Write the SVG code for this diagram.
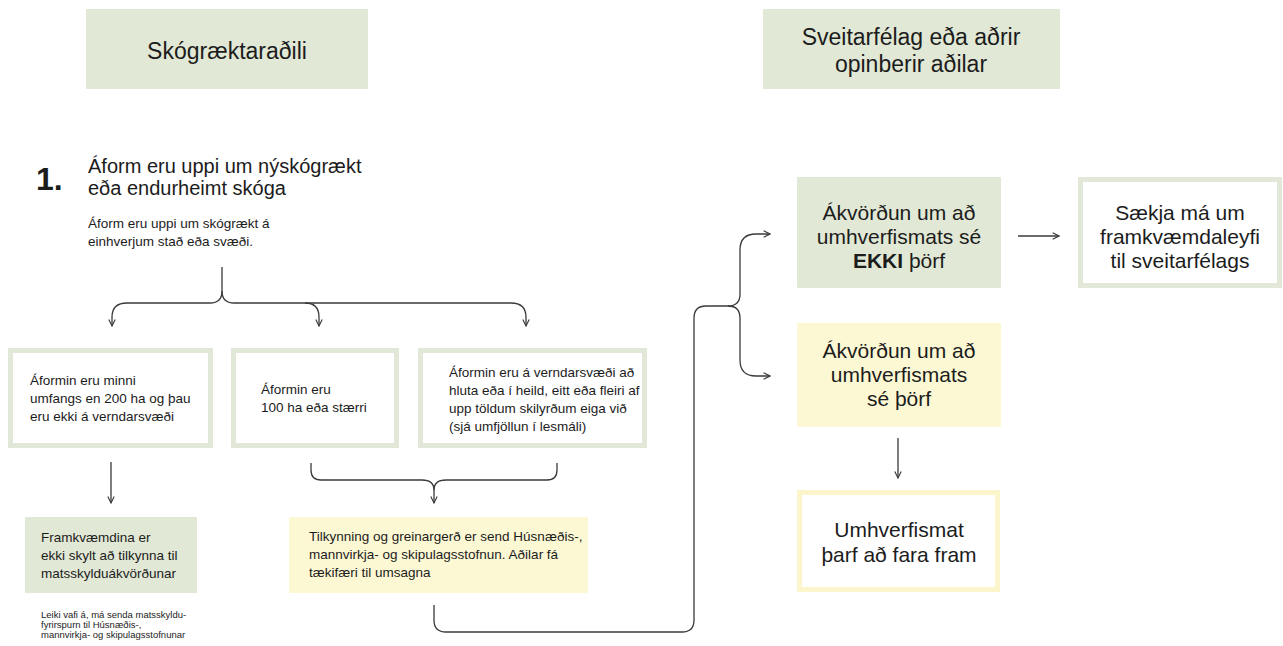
<svg xmlns="http://www.w3.org/2000/svg" width="1283" height="646" viewBox="0 0 1283 646">
<defs>
<style>
text{font-family:"Liberation Sans",Arial,sans-serif;fill:#1c1c1c}
.hd{font-size:23px}
.tt{font-size:20px}
.b{font-size:13.5px}
.s{font-size:9.5px}
.r{font-size:21px}
.c{text-anchor:middle}
.gf{fill:#e1e8d5}
.yf{fill:#fdf8d4}
.gb{fill:#fff;stroke:#e2e8d7;stroke-width:5}
.yb{fill:#fff;stroke:#fcf5cc;stroke-width:5}
.ln{fill:none;stroke:#3a3a3a;stroke-width:1.3}
</style>
<marker id="ah" viewBox="0 0 10 10" refX="9" refY="5" markerWidth="8" markerHeight="8" markerUnits="userSpaceOnUse" orient="auto">
<path d="M1,1 L9,5 L1,9" fill="none" stroke="#3a3a3a" stroke-width="1.4"/>
</marker>
</defs>
<rect width="1283" height="646" fill="#fff"/>

<g id="header-left">
<rect class="gf" x="86" y="9" width="282" height="80" rx="1"/>
<text class="hd c" x="227" y="59">Skógræktaraðili</text>
</g>
<g id="header-right">
<rect class="gf" x="763" y="9" width="297" height="80" rx="1"/>
<text class="hd c" x="911" y="45">Sveitarfélag eða aðrir</text>
<text class="hd c" x="911" y="72">opinberir aðilar</text>
</g>

<g id="step1">
<text x="36" y="190" style="font-size:32px;font-weight:bold">1.</text>
<text class="tt" x="88" y="173">Áform eru uppi um nýskógrækt</text>
<text class="tt" x="88" y="195">eða endurheimt skóga</text>
<text class="b" x="88" y="228">Áform eru uppi um skógrækt á</text>
<text class="b" x="88" y="246">einhverjum stað eða svæði.</text>
</g>

<g id="box-minni">
<rect class="gb" x="10.5" y="350.5" width="200" height="95"/>
<text class="b" x="30" y="385">Áformin eru minni</text>
<text class="b" x="30" y="403">umfangs en 200 ha og þau</text>
<text class="b" x="30" y="421">eru ekki á verndarsvæði</text>
</g>
<g id="box-100ha">
<rect class="gb" x="233.5" y="350.5" width="163" height="95"/>
<text class="b" x="261" y="394">Áformin eru</text>
<text class="b" x="261" y="412">100 ha eða stærri</text>
</g>
<g id="box-vernd">
<rect class="gb" x="420.5" y="350.5" width="224" height="95"/>
<text class="b" x="449" y="377">Áformin eru á verndarsvæði að</text>
<text class="b" x="449" y="395">hluta eða í heild, eitt eða fleiri af</text>
<text class="b" x="449" y="413">upp töldum skilyrðum eiga við</text>
<text class="b" x="449" y="431">(sjá umfjöllun í lesmáli)</text>
</g>

<g id="box-framkvaemd">
<rect class="gf" x="25" y="517" width="172" height="76" rx="1"/>
<text class="b" x="41" y="542">Framkvæmdina er</text>
<text class="b" x="41" y="560">ekki skylt að tilkynna til</text>
<text class="b" x="41" y="578">matsskylduákvörðunar</text>
</g>
<g id="note">
<text class="s" x="41" y="618">Leiki vafi á, má senda matsskyldu-</text>
<text class="s" x="41" y="628">fyrirspurn til Húsnæðis-,</text>
<text class="s" x="41" y="638">mannvirkja- og skipulagsstofnunar</text>
</g>

<g id="box-tilkynning">
<rect class="yf" x="289" y="517" width="299" height="76" rx="1"/>
<text class="b" x="309" y="541">Tilkynning og greinargerð er send Húsnæðis-,</text>
<text class="b" x="309" y="559">mannvirkja- og skipulagsstofnun. Aðilar fá</text>
<text class="b" x="309" y="577">tækifæri til umsagna</text>
</g>

<g id="box-ekki">
<rect class="gf" x="797" y="177" width="204" height="111" rx="1"/>
<text class="r c" x="899" y="220">Ákvörðun um að</text>
<text class="r c" x="899" y="244">umhverfismats sé</text>
<text class="r c" x="899" y="268"><tspan font-weight="bold">EKKI</tspan> þörf</text>
</g>
<g id="box-saekja">
<rect class="gb" x="1080.5" y="179.5" width="199" height="106"/>
<text class="r c" x="1180" y="220">Sækja má um</text>
<text class="r c" x="1180" y="244">framkvæmdaleyfi</text>
<text class="r c" x="1180" y="268">til sveitarfélags</text>
</g>
<g id="box-thorf">
<rect class="yf" x="797" y="323" width="204" height="104" rx="1"/>
<text class="r c" x="899" y="358">Ákvörðun um að</text>
<text class="r c" x="899" y="382">umhverfismats</text>
<text class="r c" x="899" y="406">sé þörf</text>
</g>
<g id="box-umhverfismat">
<rect class="yb" x="799.5" y="492.5" width="198" height="97"/>
<text class="r c" x="899" y="537">Umhverfismat</text>
<text class="r c" x="899" y="562">þarf að fara fram</text>
</g>

<g id="connectors">
<path class="ln" d="M222,267 V291 Q222,303 210,303 H127 Q112,303 112,317 V326" marker-end="url(#ah)"/>
<path class="ln" d="M222,291 Q222,303 234,303 H511 Q526,303 526,317 V326" marker-end="url(#ah)"/>
<path class="ln" d="M305,303 Q319,303 319,317 V326" marker-end="url(#ah)"/>
<path class="ln" d="M111,462 V503" marker-end="url(#ah)"/>
<path class="ln" d="M311,463 V470 Q311,480 321,480 H422 Q434,480 434,490"/>
<path class="ln" d="M557,463 V470 Q557,480 547,480 H446 Q434,480 434,490"/>
<path class="ln" d="M434,490 V503" marker-end="url(#ah)"/>
<path class="ln" d="M434,605 V620 Q434,632 446,632 H682 Q694,632 694,620 V318 Q694,306 706,306 H728"/>
<path class="ln" d="M728,306 Q740,306 740,294 V250 Q740,234 756,234 H770" marker-end="url(#ah)"/>
<path class="ln" d="M728,306 Q740,306 740,318 V360 Q740,376 756,376 H770" marker-end="url(#ah)"/>
<path class="ln" d="M1018,236 H1059" marker-end="url(#ah)"/>
<path class="ln" d="M898,438 V478" marker-end="url(#ah)"/>
</g>
</svg>
